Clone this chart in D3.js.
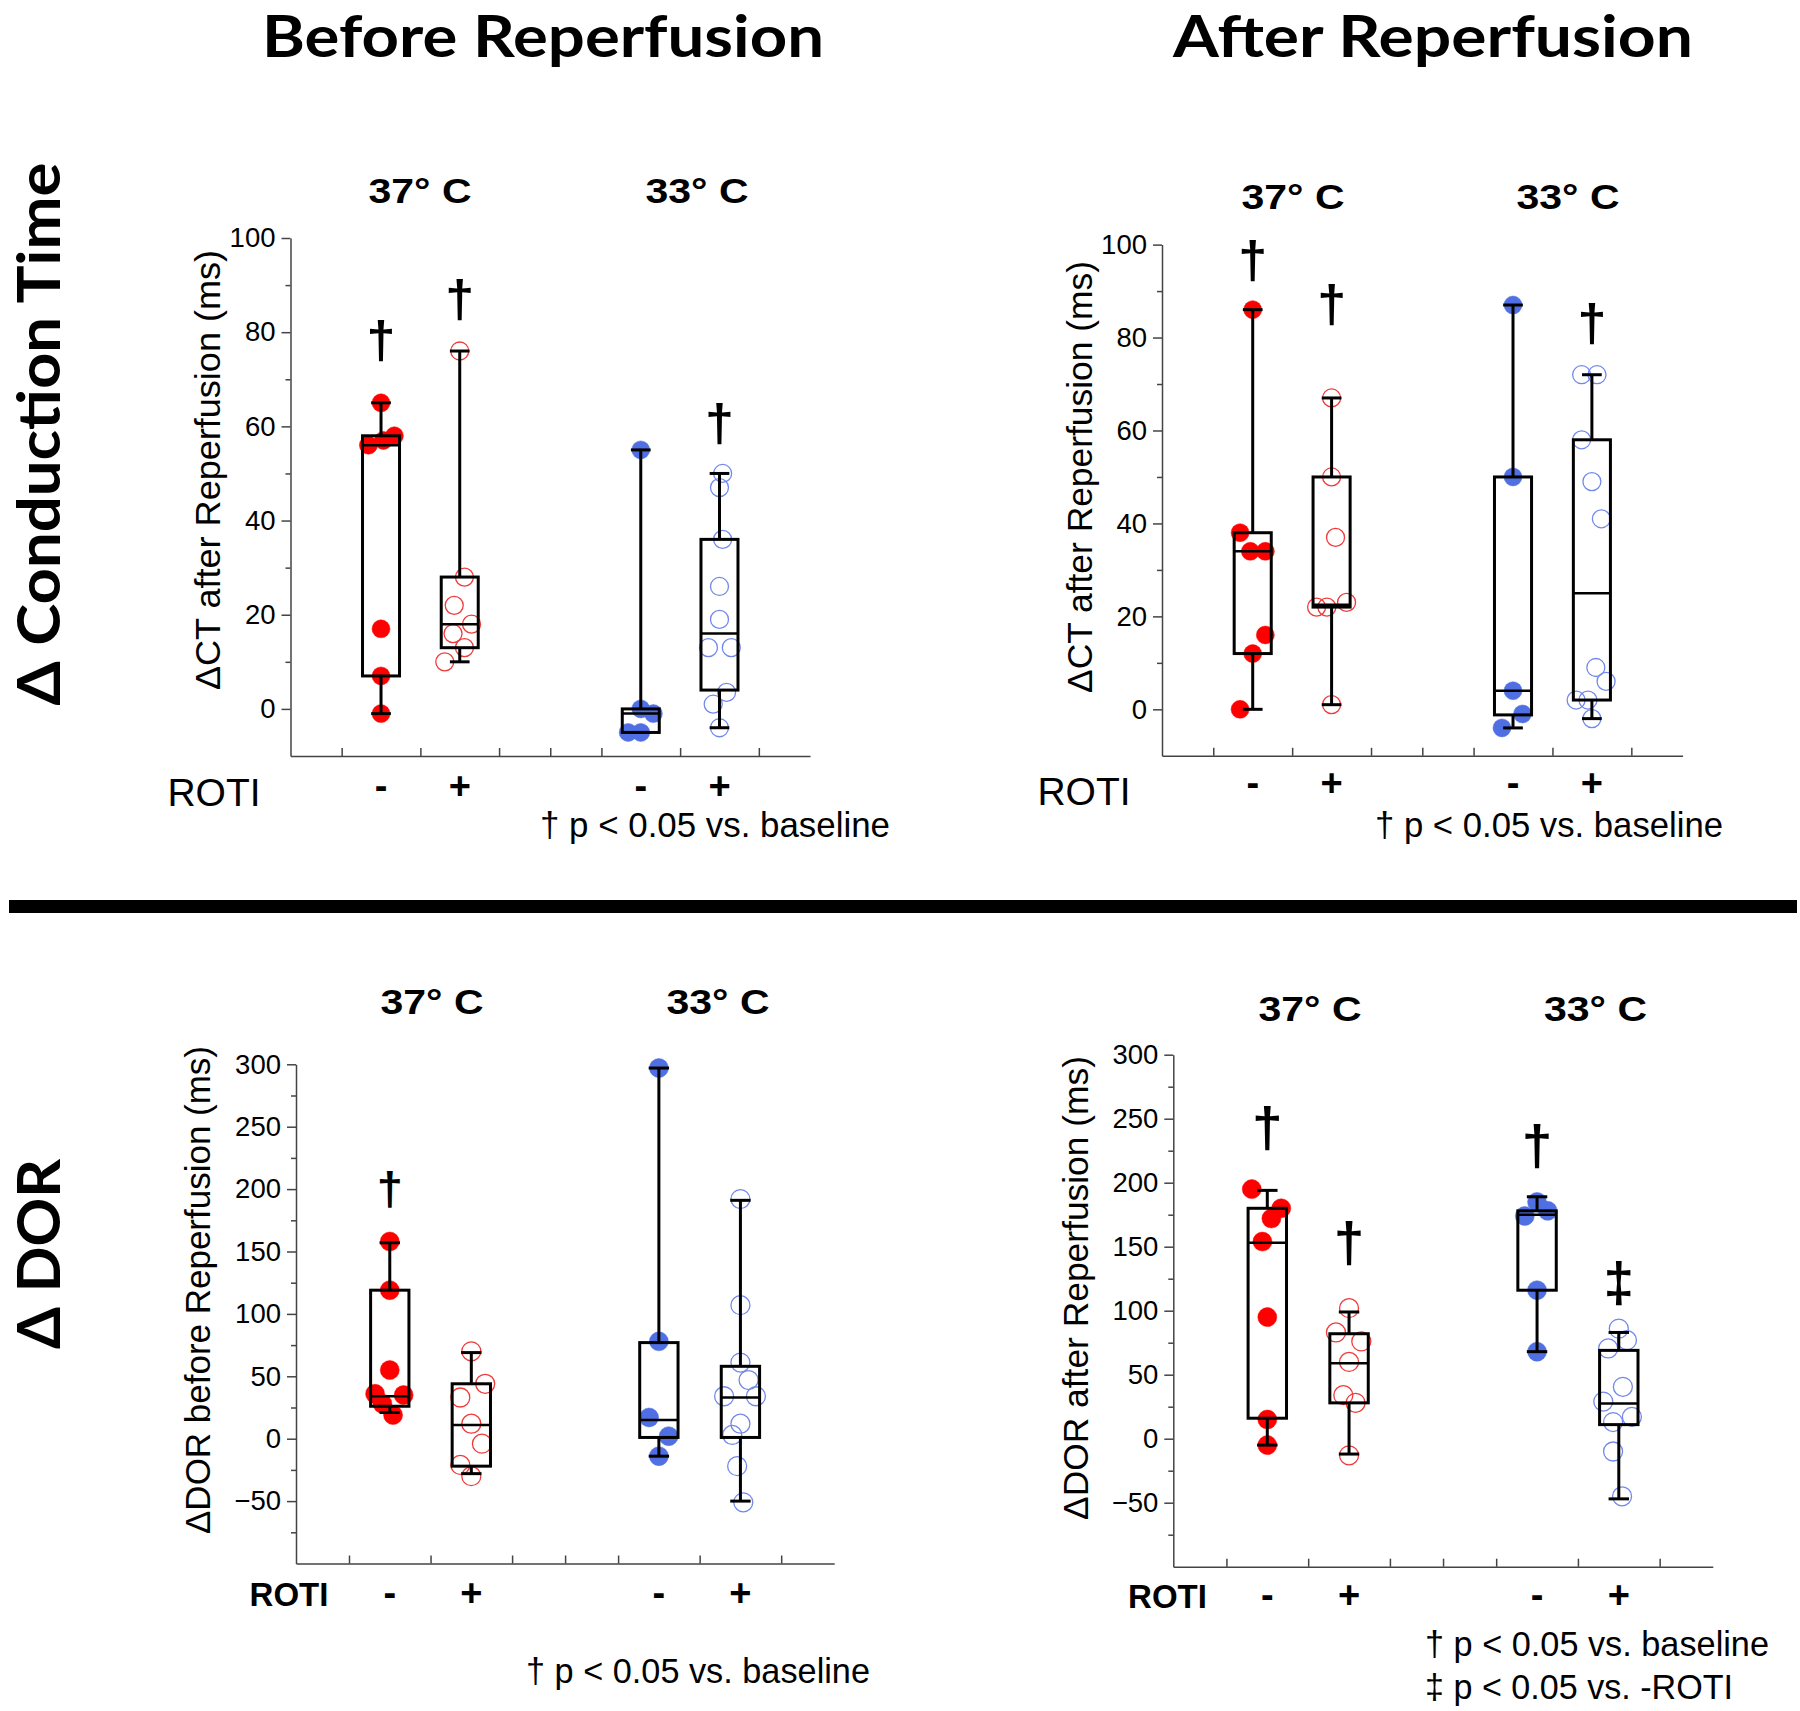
<!DOCTYPE html>
<html>
<head>
<meta charset="utf-8">
<script src="https://cdn.jsdelivr.net/npm/d3@7.9.0/dist/d3.min.js"></script>
<style>
  body { margin: 0; background: #fff; }
  svg { display: block; }
</style>
</head>
<body>
<svg id="fig"></svg>
<script>
// ---- shared categories ----
const conditions = ['37° C', '33° C'];
const rotiSigns = ['-', '+', '-', '+'];
const catPos = [1, 2, 4.3, 5.3];                 // 37-, 37+, 33-, 33+
const catTicks = [0.5, 1.5, 2.5, 3.15, 3.8, 4.8, 5.8];

// ---- ΔCT before reperfusion ----
const ctBeforeVals = [
  [65, 58, 57, 56, 17, 7, -1],
  [76, 28, 22, 18, 16, 13, 10],
  [55, 0, -1, -5, -5],
  [50, 47, 36, 26, 19, 13, 13, 3.5, 1, -4]
];
const ctBeforeJitter = [
  [0, 0.17, 0.03, -0.16, 0, 0, 0],
  [0, 0.06, -0.07, 0.15, -0.085, 0.06, -0.19],
  [0, 0, 0.16, -0.16, 0],
  [0.04, 0, 0.04, 0, 0, -0.14, 0.15, 0.09, -0.08, 0]
];
// [low whisker, q1, median, q3, high whisker]
const ctBeforeBox = [[-1, 7, 56, 58, 65], [10, 13, 18, 28, 76], [-5, -5, -1, 0, 55], [-4, 4, 16, 36, 50]];
const ctBeforeSig = ['†', '†', null, '†'];
const ctBeforeSigAt = [77.7, 86.4, null, 60];

// ---- ΔCT after reperfusion ----
const ctAfterVals = [
  [86, 38, 34, 34, 16, 12, 0],
  [67, 50, 37, 23, 22, 22, 1],
  [87, 50, 4, -1, -4],
  [72, 72, 58, 49, 41, 9, 6, 2, 2, -2]
];
const ctAfterJitter = [
  [0, -0.16, -0.03, 0.16, 0.16, 0, -0.16],
  [0, 0, 0.05, 0.19, -0.19, -0.06, 0],
  [0, 0, 0, 0.12, -0.14],
  [-0.13, 0.065, -0.13, 0, 0.12, 0.05, 0.18, -0.2, -0.05, 0]
];
const ctAfterBox = [[0, 12, 34, 38, 86], [1, 22, 22.5, 50, 67], [-4, -1.2, 4, 50, 87], [-2, 2, 25, 58, 72]];
const ctAfterSig = ['†', '†', null, '†'];
const ctAfterSigAt = [96, 86.6, null, 82.5];

// ---- ΔDOR before reperfusion ----
const dorBeforeVals = [
  [158, 119, 55, 36, 35, 28, 19],
  [70, 44, 33, 12, -4, -21, -30],
  [297, 78, 17, 2, -14],
  [192, 107, 61, 47, 34, 34, 12, 3, -22, -51]
];
const dorBeforeJitter = [
  [0, 0, 0, -0.18, 0.17, -0.09, 0.04],
  [0, 0.17, -0.135, 0, 0.13, -0.135, 0],
  [0, 0, -0.12, 0.12, 0],
  [0, 0, 0, 0.1, -0.2, 0.19, 0, -0.1, -0.04, 0.035]
];
const dorBeforeBox = [[21, 26, 34, 119, 157], [-28, -22, 11, 44, 69], [-14, 1, 15, 77, 297], [-50, 1, 33, 58, 191]];
const dorBeforeSig = ['†', null, null, null];
const dorBeforeSigAt = [198, null, null, null];

// ---- ΔDOR after reperfusion ----
const dorAfterVals = [
  [195, 180, 172, 154, 95, 15, -5],
  [102, 83, 76, 60, 34, 28, -13],
  [185, 178, 174, 116, 68],
  [86, 77, 70.5, 40.5, 29, 17, 13, -10, -45]
];
const dorAfterJitter = [
  [-0.19, 0.17, 0.05, -0.06, 0, 0, 0],
  [0, -0.16, 0.15, 0, -0.07, 0.08, 0],
  [0, 0.13, -0.15, 0, 0],
  [0, 0.1, -0.13, 0.05, -0.19, 0.16, -0.07, -0.07, 0.04]
];
const dorAfterBox = [[-5, 16, 153, 180, 194], [-12, 28, 59, 82, 99], [68, 116, 175, 178, 189], [-47, 11, 27.5, 69, 83]];
const dorAfterSig = ['†', '†', '†', '‡'];
const dorAfterSigAt = [241, 151.5, 227, 120];

const ctTicks = [0, 20, 40, 60, 80, 100];
const ctMinor = [10, 30, 50, 70, 90];
const dorTicks = [-50, 0, 50, 100, 150, 200, 250, 300];
const dorMinor = [-75, -25, 25, 75, 125, 175, 225, 275];

const legendBase = '† p < 0.05 vs. baseline';
const legendRoti = '‡ p < 0.05 vs. -ROTI';

// ---- styles ----
const W = 1800, H = 1711;
const ARIAL = "'Liberation Sans', Arial, sans-serif";
const TITLE = "Lato, 'Open Sans', 'Noto Sans', sans-serif";
const red = '#ff0000', blue = '#4f6fe2';
const redOpen = '#f03a3a', blueOpen = '#7389ea';

const svg = d3.select('#fig').attr('width', W).attr('height', H)
  .attr('viewBox', `0 0 ${W} ${H}`);
svg.append('rect').attr('width', W).attr('height', H).attr('fill', '#fff');

function fit(sel, len) {
  return sel.attr('textLength', len).attr('lengthAdjust', 'spacingAndGlyphs');
}

// ---- column / row headings ----
fit(svg.append('text').attr('x', 543).attr('y', 56.5).attr('text-anchor', 'middle')
  .attr('font-family', TITLE).attr('font-weight', 700).attr('font-size', 57)
  .text('Before Reperfusion'), 562);
fit(svg.append('text').attr('x', 1433).attr('y', 56.5).attr('text-anchor', 'middle')
  .attr('font-family', TITLE).attr('font-weight', 700).attr('font-size', 57)
  .text('After Reperfusion'), 520);
fit(svg.append('text').attr('transform', 'translate(60,434) rotate(-90)').attr('text-anchor', 'middle')
  .attr('font-family', TITLE).attr('font-weight', 700).attr('font-size', 60)
  .text('Δ Conduction Time'), 543);
fit(svg.append('text').attr('transform', 'translate(60,1254) rotate(-90)').attr('text-anchor', 'middle')
  .attr('font-family', TITLE).attr('font-weight', 700).attr('font-size', 60)
  .text('Δ DOR'), 190);

svg.append('rect').attr('x', 9).attr('y', 900).attr('width', 1788).attr('height', 13).attr('fill', '#000');

// ---- panels ----
const panels = [
  { vals: ctBeforeVals, jit: ctBeforeJitter, box: ctBeforeBox, sig: ctBeforeSig, sigAt: ctBeforeSigAt,
    domain: [-10, 100], ticks: ctTicks, minor: ctMinor,
    x0: 290.5, x1: 810, yTop: 238, yBot: 756, r: 9,
    yLabel: 'ΔCT after Reperfusion (ms)', yLabelX: 220, yLabelY: 470, yLabelLen: 440,
    condX: [420, 697], condY: 203, rotiX: 214, rotiY: 806, rotiBold: false, rotiSize: 39, pmY: 799,
    sigSize: 52, legend: [legendBase], legX: 540, legY: [837], legLen: [350] },
  { vals: ctAfterVals, jit: ctAfterJitter, box: ctAfterBox, sig: ctAfterSig, sigAt: ctAfterSigAt,
    domain: [-10, 100], ticks: ctTicks, minor: ctMinor,
    x0: 1162, x1: 1682.6, yTop: 244.6, yBot: 755.8, r: 9,
    yLabel: 'ΔCT after Reperfusion (ms)', yLabelX: 1092, yLabelY: 477, yLabelLen: 432,
    condX: [1293, 1568], condY: 209, rotiX: 1084, rotiY: 805, rotiBold: false, rotiSize: 39, pmY: 796,
    sigSize: 52, legend: [legendBase], legX: 1375, legY: [837], legLen: [348] },
  { vals: dorBeforeVals, jit: dorBeforeJitter, box: dorBeforeBox, sig: dorBeforeSig, sigAt: dorBeforeSigAt,
    domain: [-100, 300], ticks: dorTicks, minor: dorMinor,
    x0: 296, x1: 834.2, yTop: 1064.3, yBot: 1563.5, r: 9.5,
    yLabel: 'ΔDOR before Reperfusion (ms)', yLabelX: 210, yLabelY: 1290, yLabelLen: 488,
    condX: [432, 718], condY: 1014, rotiX: 289, rotiY: 1606, rotiBold: true, rotiSize: 33, pmY: 1606,
    sigSize: 47, legend: [legendBase], legX: 526, legY: [1683], legLen: [344] },
  { vals: dorAfterVals, jit: dorAfterJitter, box: dorAfterBox, sig: dorAfterSig, sigAt: dorAfterSigAt,
    domain: [-100, 300], ticks: dorTicks, minor: dorMinor,
    x0: 1173.3, x1: 1712.8, yTop: 1054.7, yBot: 1566.7, r: 9.5,
    yLabel: 'ΔDOR after Reperfusion (ms)', yLabelX: 1088, yLabelY: 1288, yLabelLen: 464,
    condX: [1310, 1595.5], condY: 1021, rotiX: 1167.5, rotiY: 1608, rotiBold: true, rotiSize: 33, pmY: 1608,
    sigSize: 55, legend: [legendBase, legendRoti], legX: 1425, legY: [1656, 1699], legLen: [344, 308] }
];

panels.forEach(p => {
  const g = svg.append('g');
  const x = d3.scaleLinear().domain([-0.15, 6.45]).range([p.x0, p.x1]);
  const y = d3.scaleLinear().domain(p.domain).range([p.yBot, p.yTop]);
  const unit = x(1) - x(0);

  // axes
  const yAxis = g.append('g').attr('transform', `translate(${p.x0},0)`)
    .call(d3.axisLeft(y).tickValues(p.ticks).tickSize(9).tickPadding(6).tickSizeOuter(0));
  yAxis.attr('font-family', ARIAL).attr('font-size', 27.5);
  yAxis.selectAll('text').attr('fill', '#000');
  yAxis.selectAll('path,line').attr('stroke', '#444').attr('stroke-width', 1.5);

  const yMinor = g.append('g').attr('transform', `translate(${p.x0},0)`)
    .call(d3.axisLeft(y).tickValues(p.minor).tickSize(5).tickFormat(''));
  yMinor.select('.domain').remove();
  yMinor.selectAll('line').attr('stroke', '#444').attr('stroke-width', 1.5);

  const xAxis = g.append('g').attr('transform', `translate(0,${p.yBot})`)
    .call(d3.axisBottom(x).tickValues(catTicks).tickSize(-8).tickFormat('').tickSizeOuter(0));
  xAxis.selectAll('path,line').attr('stroke', '#444').attr('stroke-width', 1.5);

  // points (drawn under the boxes)
  p.vals.forEach((vs, c) => {
    const filled = rotiSigns[c] === '-';
    const col = c < 2 ? (filled ? red : redOpen) : (filled ? blue : blueOpen);
    g.append('g').selectAll('circle').data(vs).join('circle')
      .attr('cx', (d, i) => x(catPos[c] + p.jit[c][i]))
      .attr('cy', d => y(d))
      .attr('r', p.r)
      .attr('fill', filled ? col : 'none')
      .attr('stroke', col)
      .attr('stroke-width', filled ? 0.5 : 1.3);
  });

  // boxes
  const bw = 0.47 * unit, cw = 0.25 * unit;
  const bg = g.append('g').attr('stroke', '#000').attr('stroke-width', 3).attr('fill', 'none');
  p.box.forEach((b, c) => {
    const cx = x(catPos[c]);
    const [lo, q1, med, q3, hi] = b;
    bg.append('line').attr('x1', cx).attr('x2', cx).attr('y1', y(hi)).attr('y2', y(q3));
    bg.append('line').attr('x1', cx).attr('x2', cx).attr('y1', y(q1)).attr('y2', y(lo));
    bg.append('line').attr('x1', cx - cw / 2).attr('x2', cx + cw / 2).attr('y1', y(hi)).attr('y2', y(hi));
    bg.append('line').attr('x1', cx - cw / 2).attr('x2', cx + cw / 2).attr('y1', y(lo)).attr('y2', y(lo));
    bg.append('rect').attr('x', cx - bw / 2).attr('width', bw)
      .attr('y', y(q3)).attr('height', y(q1) - y(q3));
    bg.append('line').attr('x1', cx - bw / 2).attr('x2', cx + bw / 2).attr('y1', y(med)).attr('y2', y(med))
      .attr('stroke-width', 2.5);
  });

  // significance marks
  p.sig.forEach((s, c) => {
    if (!s) return;
    g.append('text').attr('x', x(catPos[c])).attr('y', y(p.sigAt[c]) + 0.29 * p.sigSize)
      .attr('text-anchor', 'middle').attr('font-family', ARIAL).attr('font-weight', 700)
      .attr('font-size', p.sigSize).text(s);
  });

  // condition headings
  conditions.forEach((t, k) => {
    fit(g.append('text').attr('x', p.condX[k]).attr('y', p.condY).attr('text-anchor', 'middle')
      .attr('font-family', ARIAL).attr('font-weight', 700).attr('font-size', 35).text(t), 103);
  });

  // y title
  fit(g.append('text').attr('transform', `translate(${p.yLabelX},${p.yLabelY}) rotate(-90)`)
    .attr('text-anchor', 'middle').attr('font-family', ARIAL).attr('font-size', 35.5)
    .text(p.yLabel), p.yLabelLen);

  // ROTI row
  g.append('text').attr('x', p.rotiX).attr('y', p.rotiY).attr('text-anchor', 'middle')
    .attr('font-family', ARIAL).attr('font-weight', p.rotiBold ? 700 : 400)
    .attr('font-size', p.rotiSize).text('ROTI');
  g.append('g').selectAll('text').data(rotiSigns).join('text')
    .attr('x', (d, c) => x(catPos[c])).attr('y', p.pmY).attr('text-anchor', 'middle')
    .attr('font-family', ARIAL).attr('font-weight', 700).attr('font-size', 38).text(d => d);

  // footnotes
  p.legend.forEach((t, k) => {
    fit(g.append('text').attr('x', p.legX).attr('y', p.legY[k])
      .attr('font-family', ARIAL).attr('font-size', 34.5).text(t), p.legLen[k]);
  });
});
</script>
</body>
</html>
